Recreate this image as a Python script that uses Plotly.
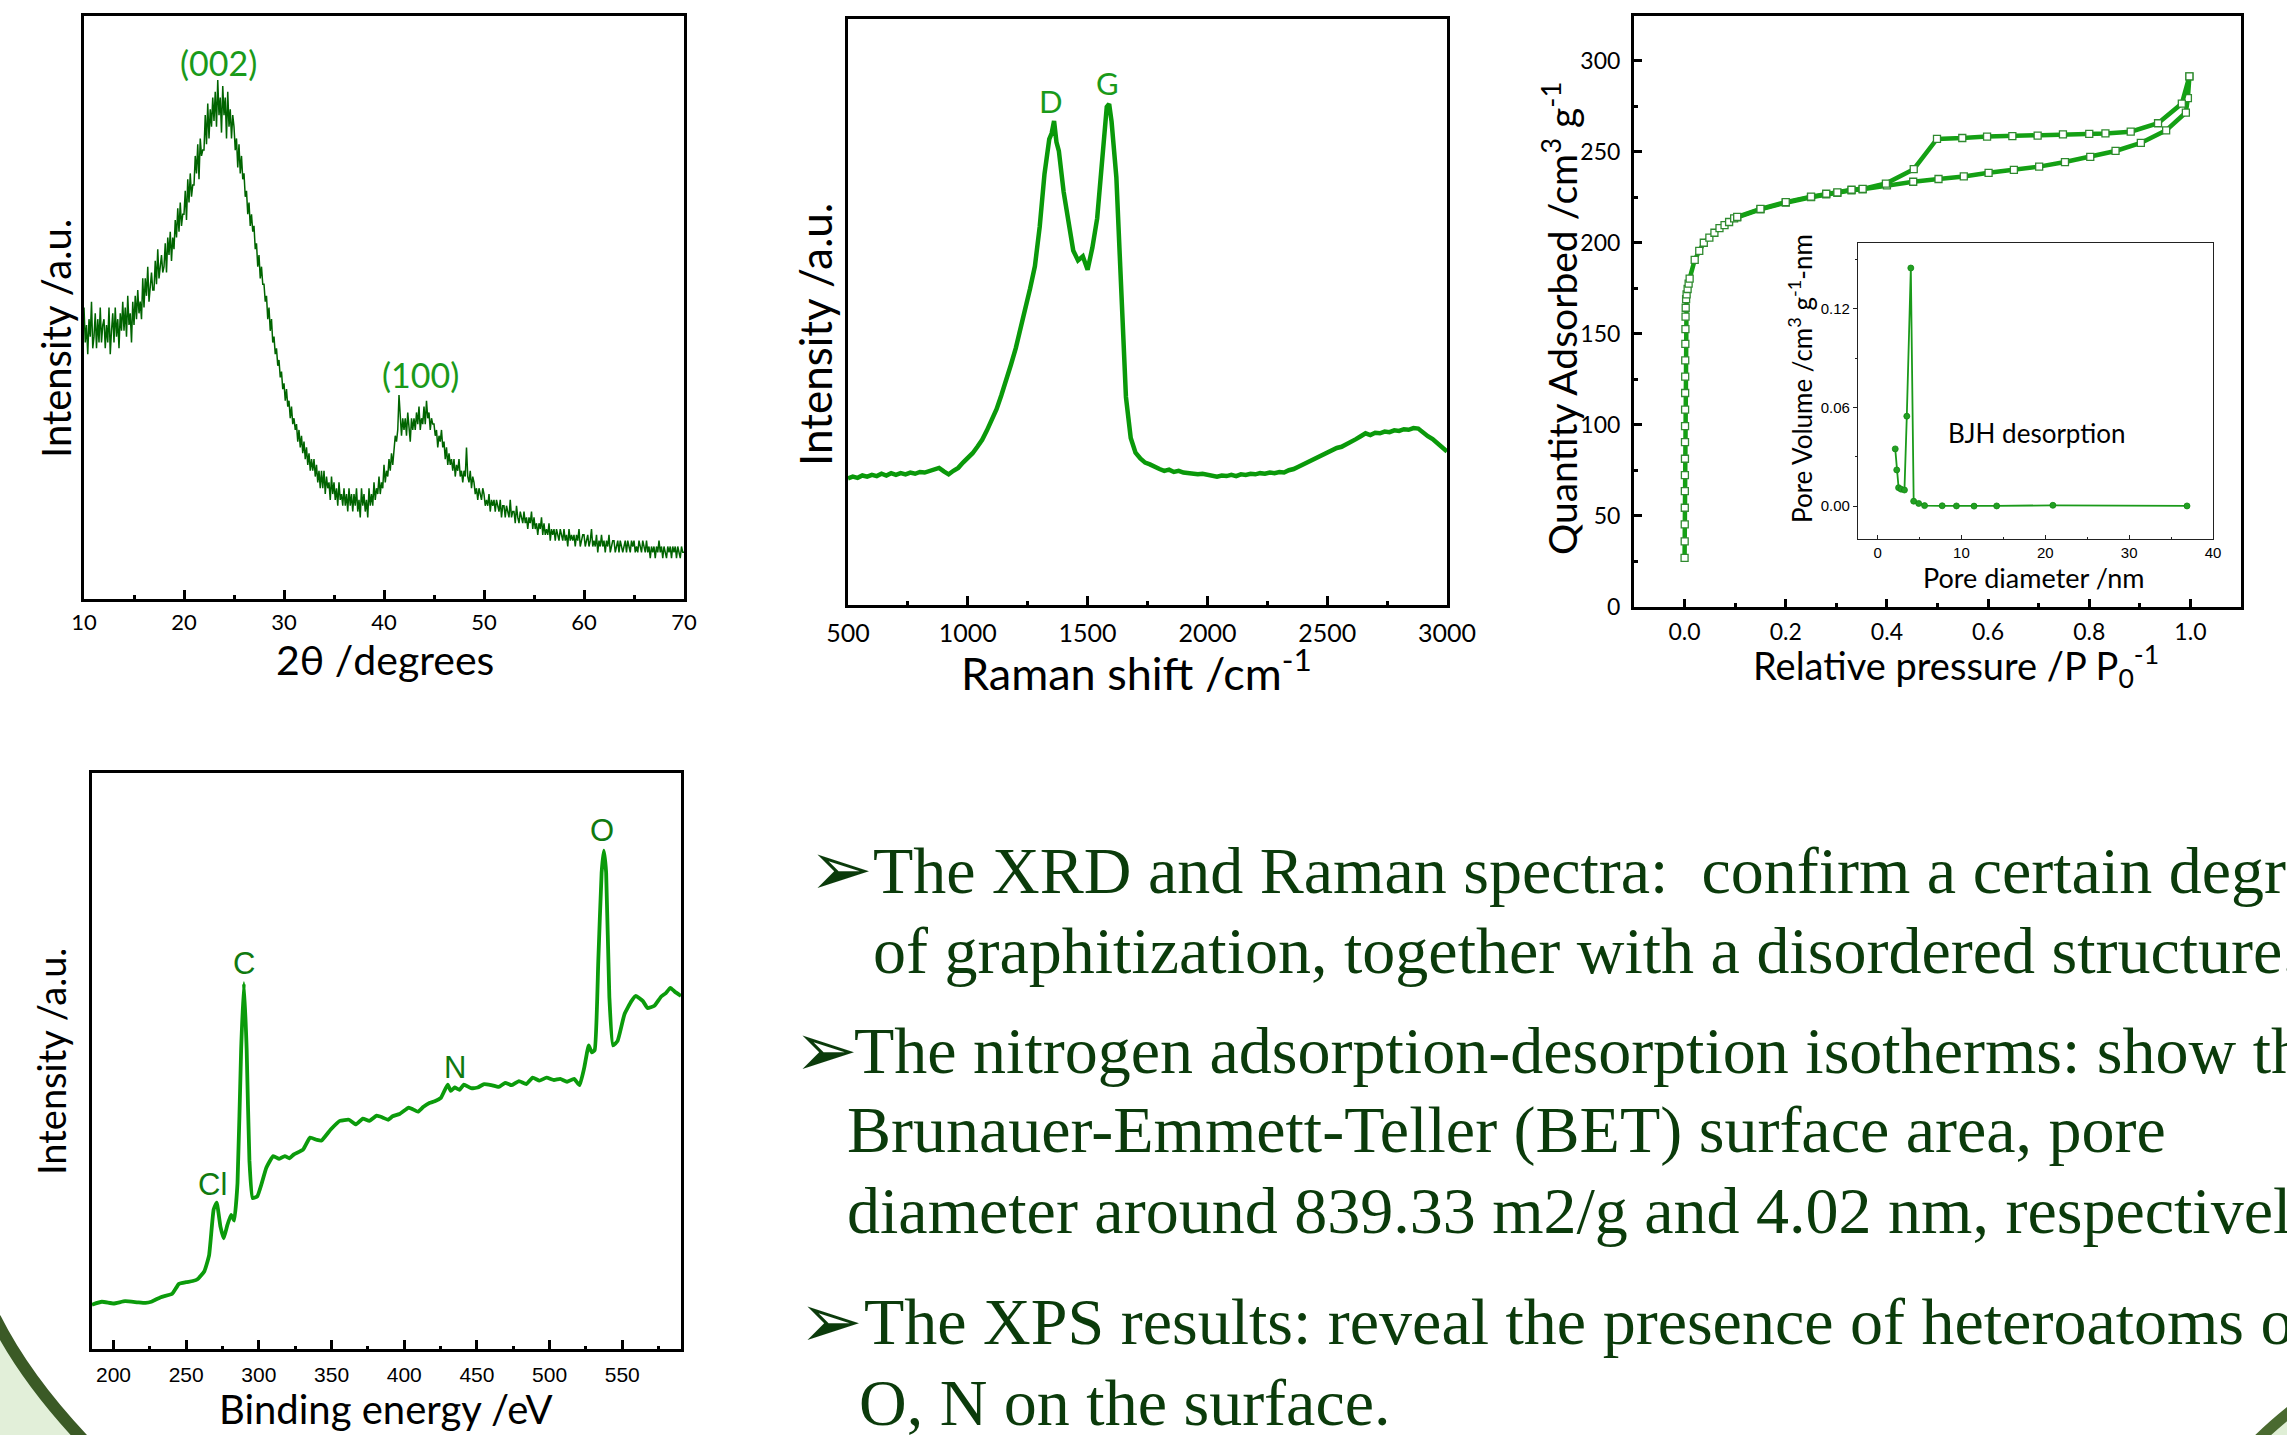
import numpy as np
import plotly.graph_objects as go

W, H = 2287, 1435

# ---------------- data ----------------
# XRD (2theta from 10 to 70, step 0.125), intensity in arbitrary units
xrd_2theta = np.arange(10.0, 70.001, 0.125)
xrd_int = [
    50, 44, 47, 42, 48, 45, 51, 43,   45, 49, 43, 48, 44, 50, 44, 47,
    48, 43, 47, 44, 50, 42, 46, 49,   44, 50, 45, 48, 43, 49, 46, 51,
    46, 50, 45, 52, 47, 49, 44, 51,   47, 52, 48, 53, 49, 51, 48, 55,
    50, 55, 52, 57, 51, 54, 56, 53,   53, 58, 54, 60, 55, 57, 59, 56,
    57, 61, 56, 62, 59, 63, 58, 62,   60, 65, 62, 67, 63, 68, 64, 66,
    66, 70, 65, 72, 68, 73, 69, 71,   71, 76, 73, 78, 72, 79, 76, 77,
    77, 83, 78, 85, 79, 84, 81, 86,   82, 87, 81, 89, 83, 86, 80, 88,
    83, 86, 79, 87, 81, 84, 79, 83,   81, 77, 79, 74, 78, 73, 76, 72,
    73, 69, 70, 66, 68, 64, 66, 63,   64, 60, 61, 57, 59, 55, 57, 54,
    54, 51, 52, 48, 50, 46, 48, 44,   45, 42, 43, 40, 41, 38, 39, 36,
    37, 34, 36, 33, 34, 31, 33, 30,   31, 29, 30, 27, 29, 26, 28, 25,
    27, 24, 26, 23, 25, 22, 24, 22,   24, 21, 23, 20, 22, 19, 22, 19,
    22, 18, 21, 19, 20, 17, 21, 18,   20, 17, 19, 16, 20, 17, 18, 16,
    19, 16, 18, 15, 19, 16, 18, 15,   18, 16, 19, 15, 17, 14, 19, 16,
    18, 15, 17, 14, 19, 16, 18, 16,   20, 17, 19, 18, 21, 18, 20, 19,
    23, 20, 22, 21, 24, 22, 25, 23,   26, 28, 27, 29, 35, 30, 28, 31,
    29, 31, 28, 32, 30, 27, 31, 29,   31, 29, 32, 30, 33, 29, 31, 30,
    33, 30, 34, 31, 32, 29, 31, 30,   30, 28, 29, 26, 28, 27, 29, 26,
    27, 24, 26, 23, 25, 23, 24, 22,   24, 21, 23, 22, 24, 21, 22, 20,
    22, 21, 26, 21, 20, 22, 19, 21,   20, 18, 19, 17, 19, 18, 17, 19,
    18, 16, 17, 16, 18, 15, 17, 16,   17, 15, 17, 16, 15, 17, 14, 16,
    16, 14, 16, 15, 14, 17, 14, 15,   15, 13, 16, 14, 13, 15, 14, 13,
    15, 13, 14, 12, 14, 13, 15, 12,   14, 12, 13, 11, 13, 12, 14, 11,
    13, 11, 12, 11, 13, 10, 12, 11,   12, 10, 12, 11, 10, 12, 11, 10,
    12, 10, 11, 9, 12, 10, 11, 10,    11, 9, 11, 10, 12, 9, 10, 11,
    11, 9, 10, 11, 9, 10, 12, 9,      10, 9, 11, 8, 10, 9, 11, 9,
    10, 8, 10, 9, 11, 8, 9, 10,       10, 8, 9, 10, 8, 10, 9, 8,
    9, 10, 8, 10, 9, 8, 10, 9,        10, 8, 9, 8, 10, 9, 8, 10,
    9, 8, 10, 8, 9, 7, 9, 8,          9, 7, 9, 8, 10, 8, 9, 7,
    9, 8, 7, 9, 8, 9, 7, 9,           8, 9, 7, 9, 8, 7, 9, 8,
    8,
]
xrd_labels = ["(002)", "(100)"]
xrd_label_x = [23.4, 43.6]
xrd_label_y = [92, 38.5]

# Raman
raman_shift = [
    500, 520, 540, 560, 580, 600, 620, 640, 660, 680, 700, 720, 740, 760, 780,
    800, 820, 840, 860, 880, 900, 920, 940, 960, 980, 1000, 1020, 1040, 1060,
    1080, 1100, 1120, 1140, 1160, 1180, 1200, 1220, 1240, 1260, 1280, 1300,
    1320, 1340, 1350, 1360, 1370, 1380, 1400, 1420, 1440, 1460, 1480, 1500,
    1520, 1540, 1560, 1580, 1590, 1600, 1620, 1640, 1660, 1680, 1700, 1720,
    1740, 1760, 1780, 1800, 1820, 1840, 1860, 1880, 1900, 1920, 1940, 1960,
    1980, 2000, 2020, 2040, 2060, 2080, 2100, 2120, 2140, 2160, 2180, 2200,
    2220, 2240, 2260, 2280, 2300, 2320, 2340, 2360, 2380, 2400, 2420, 2440,
    2460, 2480, 2500, 2520, 2540, 2560, 2580, 2600, 2620, 2640, 2660, 2680,
    2700, 2720, 2740, 2760, 2780, 2800, 2820, 2840, 2860, 2880, 2900, 2920,
    2940, 2960, 2980, 3000,
]
raman_int = [
    21.6, 21.9, 21.7, 22.1, 21.9, 22.2, 22.0, 22.4, 22.1, 22.5, 22.2, 22.5, 22.3, 22.6, 22.4,
    22.7, 22.6, 22.9, 23.1, 23.4, 22.8, 22.3, 22.9, 23.4, 24.3, 25.0, 25.9, 27.0, 28.2,
    29.8, 31.5, 33.4, 35.8, 38.2, 41.0, 43.8, 47.0, 50.5, 54.0, 57.8, 64.5,
    73.5, 79.5, 80.5, 82.6, 79.0, 77.5, 70.5, 66.0, 60.5, 58.8, 59.5, 57.2,
    61.0, 66.0, 76.5, 85.0, 85.5, 82.5, 73.0, 52.0, 35.5, 28.5, 26.0, 25.0,
    24.3, 24.0, 23.5, 23.2, 22.9, 23.1, 22.7, 22.9, 22.6, 22.5, 22.4, 22.3,
    22.4, 22.2, 22.1, 21.9, 22.1, 22.0, 22.2, 22.0, 22.3, 22.2, 22.4, 22.3,
    22.5, 22.4, 22.6, 22.5, 22.7, 22.6, 23.0, 23.2, 23.6, 24.0, 24.5, 24.9,
    25.2, 25.8, 26.1, 26.5, 26.8, 27.0, 27.4, 27.7, 28.3, 28.8, 29.3, 29.0,
    29.4, 29.3, 29.6, 29.5, 29.8, 29.7, 30.0, 29.9, 30.2, 30.1, 29.4, 28.8,
    28.3, 27.6, 27.0, 26.2,
]
raman_labels = ["D", "G"]
raman_label_x = [1348, 1582]
raman_label_y = [86, 89]

# N2 isotherm (BET)
ads_p = [0.000, 0.0002, 0.0003, 0.0004, 0.0005, 0.0006, 0.0007, 0.0008, 0.0009, 0.0010,
         0.0011, 0.0012, 0.0013, 0.0015, 0.0017, 0.0019, 0.0022, 0.003, 0.004, 0.006,
         0.008, 0.010, 0.020, 0.029, 0.038, 0.049, 0.059, 0.069, 0.079, 0.088, 0.098,
         0.104, 0.150, 0.200, 0.250, 0.280, 0.302, 0.330, 0.352, 0.400, 0.452, 0.502,
         0.552, 0.601, 0.651, 0.701, 0.752, 0.802, 0.852, 0.902, 0.952, 0.991, 0.995, 0.998]
ads_q = [27, 36, 45.4, 54.5, 63.6, 72.4, 81.4, 90.5, 99.3, 108.4,
         117.5, 126.5, 135.4, 144.5, 152.6, 159.4, 164.3, 169, 171.7, 174.6,
         177.6, 180.3, 190.6, 195.5, 200, 202.8, 205.5, 208, 209.7, 211.4, 213.4,
         213.9, 218.3, 222, 225, 226.6, 227.4, 228.8, 229.3, 231.5, 233.5, 235,
         236.4, 238.4, 240, 241.8, 244.3, 247.2, 250.4, 254.8, 261.7, 271.5, 279.4, 291.4]
des_p = [0.998, 0.983, 0.936, 0.882, 0.832, 0.800, 0.748, 0.698, 0.648, 0.598, 0.549,
         0.499, 0.453, 0.398, 0.352, 0.330, 0.302, 0.280, 0.250, 0.200, 0.150, 0.104]
des_q = [291.4, 276.4, 265.6, 261, 260, 259.8, 259.5, 258.8, 258.5, 258.3, 257.5,
         257, 240.4, 232.5, 229.6, 229.1, 227.7, 226.9, 225.3, 222.3, 218.6, 214.2]

# BJH pore size distribution (inset)
bjh_d = [2.1, 2.28, 2.5, 2.8, 3.2, 3.48, 3.96, 4.3, 4.9, 5.6, 7.7, 9.4, 11.5, 14.2, 20.9, 36.9]
bjh_v = [0.0348, 0.022, 0.0112, 0.0103, 0.0098, 0.0547, 0.1448, 0.003, 0.0016, 0.0003,
         0.0002, 0.0001, 0.0, 0.0001, 0.0005, 0.0001]

# XPS survey
xps_be = [185.2, 192, 200, 208, 216.7, 222, 226, 232.5, 240.4, 245, 250, 254.5, 257.8,
          262.5, 265.7, 268.9, 271, 273.6, 275.8, 278.3, 280.9, 283, 285.3, 287.8, 289.7,
          291.6, 293.5, 295.7, 298.9, 302, 305.2, 309.9, 314, 317.8, 321, 324.1, 330.4,
          335.2, 340, 343.1, 349.4, 355.7, 362, 366.8, 371.5, 376, 381, 385, 388.9, 392,
          396.8, 403.1, 406, 409.4, 413, 417.3, 421, 425.2, 429.9, 432, 434.7, 438, 441,
          446, 450.5, 455, 460, 465, 469.4, 474, 478.9, 484, 488.4, 493, 497.9, 503,
          507.3, 512, 516.8, 520.6, 523.8, 526.9, 529, 531, 533.5, 535.8, 537.3, 538.9,
          541.1, 543.6, 546.8, 551.5, 556.3, 559.4, 564.2, 567.3, 572.1, 576.8, 580,
          583.1, 586.3, 590.4]
xps_int = [7.7, 8.2, 7.9, 8.3, 8.1, 8.0, 8.2, 9.0, 9.6, 11.3, 11.6, 11.8, 12.1,
           13.5, 16.2, 24.2, 25.4, 21.2, 19.2, 21.5, 23.3, 22.3, 28.8, 52.0, 63.5,
           52.0, 32.7, 26.2, 26.5, 28.8, 31.5, 33.5, 33.0, 33.5, 33.1, 33.8, 34.6,
           36.7, 36.3, 36.2, 38.1, 39.6, 39.8, 39.0, 40.0, 39.6, 40.5, 40.2, 39.8, 40.4,
           40.8, 41.9, 41.6, 41.2, 42.0, 42.7, 43.0, 43.6, 45.9, 44.8, 45.4, 45.0, 45.9,
           45.3, 45.4, 46.0, 45.8, 45.5, 46.2, 45.8, 46.5, 46.0, 47.1, 46.6, 47.1, 46.7,
           46.9, 46.4, 46.9, 45.8, 48.8, 52.7, 51.5, 51.9, 67.3, 82.7, 86.5, 82.7,
           61.2, 52.7, 53.5, 58.1, 60.4, 61.3, 60.4, 59.2, 59.6, 61.2, 61.8,
           62.7, 62.0, 61.3]
xps_labels = ["Cl", "C", "N", "O"]
xps_label_x = [268, 290, 434.7, 535.8]
xps_label_y = [28.6, 67, 48.8, 90]

bullets = [
    "The XRD and Raman spectra: \u00a0confirm a certain degree",
    "of graphitization, together with a disordered structure.",
    "The nitrogen adsorption-desorption isotherms: show the",
    "Brunauer-Emmett-Teller (BET) surface area, pore",
    "diameter around 839.33 m2/g and 4.02 nm, respectively.",
    "The XPS results: reveal the presence of heteroatoms of",
    "O, N on the surface.",
]

# ---------------- helpers (layout only) ----------------
def PX(x):
    return x / W


def PY(y):
    return 1 - y / H


def dom_x(a, b):
    return [PX(a), PX(b)]


def dom_y(top, bottom):
    return [PY(bottom), PY(top)]


SANS = "Lato, 'Open Sans', sans-serif"
ARIAL = "'Liberation Sans', Arial, sans-serif"
SERIF = "'Liberation Serif', 'Times New Roman', serif"

G_DARK = "#006400"
G_LBL = "#1a9a1a"
G_TXT = "#0b3b0b"

frame = dict(showline=True, linecolor="black", linewidth=3, mirror=True,
             zeroline=False, showgrid=False, automargin=False, fixedrange=True)

fig = go.Figure()

# XRD
fig.add_trace(go.Scatter(x=xrd_2theta, y=xrd_int, mode="lines",
                         line=dict(color=G_DARK, width=1.5), xaxis="x", yaxis="y",
                         showlegend=False))
# Raman
fig.add_trace(go.Scatter(x=raman_shift, y=raman_int, mode="lines",
                         line=dict(color="#0a990a", width=4.5), xaxis="x2", yaxis="y2",
                         showlegend=False))
# BET adsorption/desorption
for px_, qy_ in ((ads_p, ads_q), (des_p, des_q)):
    fig.add_trace(go.Scatter(x=px_, y=qy_, mode="lines+markers",
                             line=dict(color="#14a014", width=4.5),
                             marker=dict(symbol="square", size=7, color="white",
                                         line=dict(color="#2f8a2f", width=1.3)),
                             xaxis="x3", yaxis="y3", showlegend=False))
# Inset BJH
fig.add_trace(go.Scatter(x=bjh_d, y=bjh_v, mode="lines+markers",
                         line=dict(color="#1a9a1a", width=1.8),
                         marker=dict(symbol="circle", size=6, color="#22a022",
                                     line=dict(color="#118811", width=0.8)),
                         xaxis="x4", yaxis="y4", showlegend=False))
# XPS
fig.add_trace(go.Scatter(x=xps_be, y=xps_int, mode="lines",
                         line=dict(color="#0b9b0b", width=3.8, shape="spline", smoothing=0.4),
                         xaxis="x5", yaxis="y5", showlegend=False))

layout = dict(
    width=W, height=H,
    margin=dict(l=0, r=0, t=0, b=0),
    paper_bgcolor="white", plot_bgcolor="white",
    showlegend=False,
    # XRD
    xaxis=dict(frame, domain=dom_x(84, 684), range=[10, 70], tick0=10, dtick=10,
               ticks="inside", ticklen=9, tickwidth=2.5, tickcolor="black",
               minor=dict(dtick=5, ticks="inside", ticklen=4, tickwidth=2.5, tickcolor="black"),
               tickfont=dict(family=SANS, size=22, color="black"), ticklabelstandoff=2,
               anchor="y"),
    yaxis=dict(frame, domain=dom_y(16, 599), range=[0, 100], showticklabels=False,
               ticks="", anchor="x"),
    # Raman
    xaxis2=dict(frame, domain=dom_x(848, 1447), range=[500, 3000], tick0=500, dtick=500,
                ticks="inside", ticklen=9, tickwidth=2.5, tickcolor="black",
                minor=dict(dtick=250, ticks="inside", ticklen=4, tickwidth=2.5, tickcolor="black"),
                tickfont=dict(family=SANS, size=25, color="black"), ticklabelstandoff=4,
                anchor="y2"),
    yaxis2=dict(frame, domain=dom_y(19, 605), range=[0, 100], showticklabels=False,
                ticks="", anchor="x2"),
    # BET
    xaxis3=dict(frame, domain=dom_x(1634, 2241), range=[-0.1, 1.1], tick0=0, dtick=0.2,
                tickformat=".1f", ticks="inside", ticklen=8, tickwidth=2.5, tickcolor="black",
                minor=dict(dtick=0.1, ticks="inside", ticklen=4, tickwidth=2.5, tickcolor="black"),
                tickfont=dict(family=SANS, size=23, color="black"), ticklabelstandoff=2,
                anchor="y3"),
    yaxis3=dict(frame, domain=dom_y(16, 607), range=[0, 324.5], tick0=0, dtick=50,
                ticks="inside", ticklen=8, tickwidth=2.5, tickcolor="black",
                minor=dict(dtick=25, ticks="inside", ticklen=4, tickwidth=2.5, tickcolor="black"),
                tickfont=dict(family=SANS, size=23, color="black"), ticklabelstandoff=6,
                anchor="x3"),
    # Inset
    xaxis4=dict(showline=True, linecolor="#222", linewidth=1.2, mirror=True, zeroline=False,
                showgrid=False, automargin=False, fixedrange=True,
                domain=dom_x(1858, 2213), range=[-2.34, 40], tick0=0, dtick=10,
                ticks="inside", ticklen=4, tickwidth=1, tickcolor="#222",
                minor=dict(dtick=5, ticks="inside", ticklen=2, tickwidth=1, tickcolor="#222"),
                tickfont=dict(family=ARIAL, size=15, color="black"), anchor="y4"),
    yaxis4=dict(showline=True, linecolor="#222", linewidth=1.2, mirror=True, zeroline=False,
                showgrid=False, automargin=False, fixedrange=True,
                domain=dom_y(243, 539), range=[-0.02, 0.16], tick0=0, dtick=0.06,
                tickformat=".2f", ticks="outside", ticklen=4, tickwidth=1, tickcolor="#222",
                minor=dict(dtick=0.03, ticks="outside", ticklen=2, tickwidth=1, tickcolor="#222"),
                tickfont=dict(family=ARIAL, size=15, color="black"), anchor="x4"),
    # XPS
    xaxis5=dict(frame, domain=dom_x(92, 681), range=[185.2, 590.4], tick0=200, dtick=50,
                ticks="inside", ticklen=9, tickwidth=2.5, tickcolor="black",
                minor=dict(dtick=25, ticks="inside", ticklen=3, tickwidth=2.5, tickcolor="black"),
                tickfont=dict(family=ARIAL, size=21, color="black"), ticklabelstandoff=5,
                anchor="y5"),
    yaxis5=dict(frame, domain=dom_y(773, 1349), range=[0, 100], showticklabels=False,
                ticks="", anchor="x5"),
)
fig.update_layout(**layout)

ann = []


def T(text, x, y, size, color="black", family=SANS, xanchor="center", yanchor="middle",
      angle=0):
    ann.append(dict(text=text, x=PX(x), y=PY(y), xref="paper", yref="paper",
                    showarrow=False, font=dict(size=size, color=color, family=family),
                    xanchor=xanchor, yanchor=yanchor, textangle=angle))


# axis titles
T("2\u03b8 /degrees", 385, 659, 41)
T("Intensity /a.u.", 56, 339, 40, angle=-90)
T("Raman shift /cm<sup>-1</sup>", 1136, 670, 45)
T("Intensity /a.u.", 815, 335, 44, angle=-90)
T("Relative pressure /P P<sub>0</sub><sup>-1</sup>", 1956, 666, 38)
T("Quantity Adsorbed /cm<sup>3</sup> g<sup>-1</sup>", 1559, 319, 39, angle=-90)
T("Pore diameter /nm", 2033, 577, 27)
T("Pore Volume /cm<sup>3</sup> g<sup>-1</sup>-nm", 1801, 379, 26, angle=-90)
T("BJH desorption", 2037, 433, 26)
T("Binding energy /eV", 386, 1409, 40)
T("Intensity /a.u.", 51, 1062, 38, angle=-90)

# peak labels (data coordinates)
for t, x, y in zip(xrd_labels, xrd_label_x, xrd_label_y):
    ann.append(dict(text=t, x=x, y=y, xref="x", yref="y", showarrow=False,
                    font=dict(size=34, color=G_LBL, family=SANS)))
for t, x, y in zip(raman_labels, raman_label_x, raman_label_y):
    ann.append(dict(text=t, x=x, y=y, xref="x2", yref="y2", showarrow=False,
                    font=dict(size=31, color=G_LBL, family=SANS)))
for t, x, y in zip(xps_labels, xps_label_x, xps_label_y):
    ann.append(dict(text=t, x=x, y=y, xref="x5", yref="y5", showarrow=False,
                    font=dict(size=31, color="#107a10", family=ARIAL)))

# bullet text
line_pos = [(871, 870), (871, 950), (852, 1050), (845, 1130), (845, 1210), (862, 1321),
            (857, 1402)]
for t, (x, y) in zip(bullets, line_pos):
    T(t, x, y, 66, color=G_TXT, family=SERIF, xanchor="left")
for (x, y) in [(807, 868), (792, 1049), (797, 1320)]:
    T("\u27a2", x, y, 76, color=G_TXT, family="'DejaVu Sans'", xanchor="left")

fig.update_layout(annotations=ann)

# corner decorations
shapes = [
    dict(type="path", xref="paper", yref="paper", layer="below",
         path=f"M {PX(-5)} {PY(1318)} Q {PX(28)} {PY(1384)} {PX(95)} {PY(1452)} "
              f"L {PX(-5)} {PY(1452)} Z",
         fillcolor="#e2efd9", line=dict(width=0)),
    dict(type="path", xref="paper", yref="paper",
         path=f"M {PX(-5)} {PY(1318)} Q {PX(28)} {PY(1384)} {PX(95)} {PY(1452)}",
         line=dict(color="#3b5a26", width=12)),
    dict(type="path", xref="paper", yref="paper", layer="below",
         path=f"M {PX(2258)} {PY(1440)} Q {PX(2272)} {PY(1426)} {PX(2292)} {PY(1410)} "
              f"L {PX(2292)} {PY(1440)} Z",
         fillcolor="#dfeed5", line=dict(width=0)),
    dict(type="path", xref="paper", yref="paper",
         path=f"M {PX(2258)} {PY(1440)} Q {PX(2272)} {PY(1426)} {PX(2292)} {PY(1410)}",
         line=dict(color="#4a6a30", width=11)),
]
fig.update_layout(shapes=shapes)

fig.write_html("out.html")
